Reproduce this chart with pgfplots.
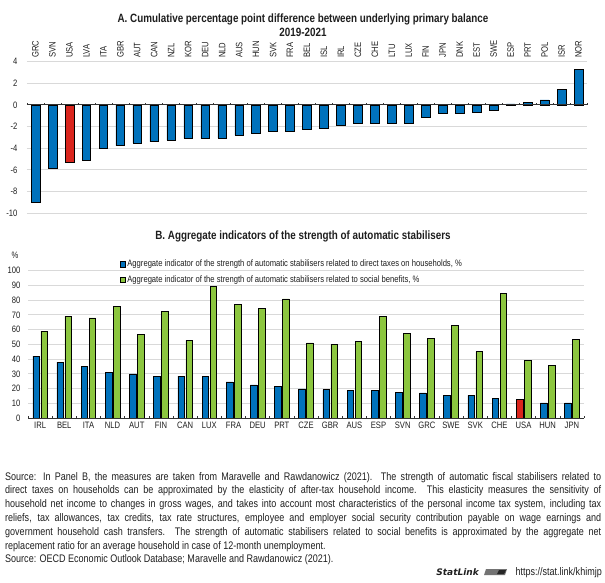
\documentclass[border=0pt]{standalone}
\usepackage{pgfplots}
\pgfplotsset{compat=1.18}
\usepackage{fontspec}
\setmainfont{Liberation Sans}[FakeStretch=0.82]
\newfontfamily\statfont{DejaVu Sans}

\definecolor{barblue}{RGB}{0,114,188}
\definecolor{bargreen}{RGB}{140,198,63}
\definecolor{barred}{RGB}{218,37,29}
\definecolor{gridgrey}{RGB}{217,217,217}
\definecolor{txt}{RGB}{30,30,30}

\pgfplotsset{
  oecd/.style={
    scale only axis,
    axis line style={draw=none},
    major tick length=0pt,
    ymajorgrids,
    grid style={gridgrey, line width=0.9bp},
    tick label style={font=\fontsize{9.3bp}{10bp}\selectfont, text=txt},
    /pgf/number format/assume math mode=true,
    ybar,
    clip=false,
  },
}

\begin{document}
\begin{tikzpicture}
\path[use as bounding box] (0,0) rectangle (605bp,-583bp);

% Panel A
\begin{axis}[oecd,
  at={(27bp,-213.3bp)}, anchor=south west,
  width=560bp, height=151.8bp,
  xmin=-0.5, xmax=32.5, ymin=-10, ymax=4,
  ytick={-10,-8,...,4},
  xtick={0,...,32},
  xticklabels={GRC,SVN,USA,LVA,ITA,GBR,AUT,CAN,NZL,KOR,DEU,NLD,AUS,HUN,SVK,FRA,BEL,ISL,IRL,CZE,CHE,LTU,LUX,FIN,JPN,DNK,EST,SWE,ESP,PRT,POL,ISR,NOR},
  xticklabel pos=upper,
  xticklabel style={rotate=90, anchor=west, inner ysep=0pt, inner xsep=3.5bp},
  yticklabel style={inner sep=0pt, xshift=-9.5bp},
  bar width=8.7bp,
]
\addplot[fill=barblue, draw=black, line width=0.5bp, bar shift=0pt] coordinates {
  (0,-8.95) (1,-5.85) (3,-5.1) (4,-4.0) (5,-3.75) (6,-3.5) (7,-3.4) (8,-3.25)
  (9,-3.1) (10,-3.1) (11,-3.05) (12,-2.8) (13,-2.6) (14,-2.45) (15,-2.4)
  (16,-2.25) (17,-2.2) (18,-1.85) (19,-1.7) (20,-1.7) (21,-1.65) (22,-1.65)
  (23,-1.15) (24,-0.75) (25,-0.75) (26,-0.65) (27,-0.45) (28,0.1) (29,0.25)
  (30,0.45) (31,1.4) (32,3.25)
};
\addplot[fill=barred, draw=black, line width=0.5bp, bar shift=0pt] coordinates {(2,-5.25)};
\draw[black!80, line width=0.8bp] (axis cs:-0.5,0) -- (axis cs:32.5,0);
\pgfplotsinvokeforeach{-0.5,0.5,...,32.5}{\draw[black!80, line width=0.6bp] (axis cs:#1,0) -- ([yshift=2bp]axis cs:#1,0);}
\end{axis}

% Panel B
\begin{axis}[oecd,
  at={(28bp,-418bp)}, anchor=south west,
  width=556bp, height=147.3bp,
  xmin=-0.5, xmax=22.5, ymin=0, ymax=100,
  ytick={0,10,...,100},
  xtick={0,...,22},
  xticklabels={IRL,BEL,ITA,NLD,AUT,FIN,CAN,LUX,FRA,DEU,PRT,CZE,GBR,AUS,ESP,SVN,GRC,SWE,SVK,CHE,USA,HUN,JPN},
  xticklabel style={inner sep=0pt, yshift=-4bp},
  yticklabel style={inner sep=0pt, xshift=-7.5bp},
  bar width=6.6bp,
  legend style={at={(rel axis cs:0.1646,1.086)}, anchor=north west, draw=none, fill=none,
    font=\fontsize{9.3bp}{10bp}\selectfont, text=txt, row sep=3.5bp, inner sep=0pt},
  legend cell align=left,
  legend image code/.code={\draw[#1, line width=0.5bp, draw=black] (0bp,-2.6bp) rectangle (5.2bp,2.6bp);},
]
\addplot[fill=barblue, draw=black, line width=0.5bp, bar shift=-4bp] coordinates {
  (0,42) (1,38) (2,35) (3,31) (4,30) (5,28.5) (6,28.5) (7,28.3) (8,24.5) (9,22.5)
  (10,21.3) (11,19.8) (12,19.2) (13,18.8) (14,18.6) (15,17.6) (16,17) (17,15.6)
  (18,15.4) (19,13.1) (21,10.2) (22,10.2)
};
\addlegendentry{Aggregate indicator of the strength of automatic stabilisers related to direct taxes on households, \%}
\addplot[fill=bargreen, draw=black, line width=0.5bp, bar shift=4bp] coordinates {
  (0,59) (1,69) (2,68) (3,76) (4,57) (5,72.5) (6,52.7) (7,89.6) (8,77) (9,74.5)
  (10,80.8) (11,51) (12,49.8) (13,52) (14,68.8) (15,57.7) (16,54.3) (17,62.9)
  (18,45) (19,84.8) (20,39.1) (21,35.7) (22,53.6)
};
\addlegendentry{Aggregate indicator of the strength of automatic stabilisers related to social benefits, \%}
\addplot[fill=barred, draw=black, line width=0.5bp, bar shift=-4bp, forget plot] coordinates {(20,12.7)};
\draw[black!80, line width=0.8bp] (axis cs:-0.5,0) -- (axis cs:22.5,0);
\pgfplotsinvokeforeach{-0.5,0.5,...,22.5}{\draw[black!80, line width=0.6bp] (axis cs:#1,0) -- ([yshift=2bp]axis cs:#1,0);}
\end{axis}

% titles
\node[font=\fontsize{12bp}{14bp}\selectfont\bfseries, align=center, text=txt] at (303bp,-25bp)
  {A. Cumulative percentage point difference between underlying primary balance\\2019-2021};
\node[font=\fontsize{12bp}{14bp}\selectfont\bfseries, text=txt] at (303bp,-236bp)
  {B. Aggregate indicators of the strength of automatic stabilisers};
\node[font=\fontsize{9.3bp}{10bp}\selectfont, text=txt] at (15bp,-255bp) {\%};

% notes
\node[anchor=north west, inner sep=0pt, text width=596bp, align=justify,
  font=\fontsize{11bp}{13.8bp}\selectfont, text=txt] at (5bp,-472bp) {%
Source: In Panel B, the measures are taken from Maravelle and Rawdanowicz (2021). The strength of automatic fiscal stabilisers related to\linebreak
direct taxes on households can be approximated by the elasticity of after-tax household income. This elasticity measures the sensitivity of\linebreak
household net income to changes in gross wages, and takes into account most characteristics of the personal income tax system, including tax\linebreak
reliefs, tax allowances, tax credits, tax rate structures, employee and employer social security contribution payable on wage earnings and\linebreak
government household cash transfers. The strength of automatic stabilisers related to social benefits is approximated by the aggregate net\linebreak
replacement ratio for an average household in case of 12-month unemployment.\par
Source: OECD Economic Outlook Database; Maravelle and Rawdanowicz (2021).};

\node[anchor=base east, inner sep=0pt, font=\fontsize{11bp}{13bp}\selectfont, text=txt] at (602bp,-575bp) {https://stat.link/khimjp};
\fill[black!55] (484bp,-575bp) -- (486bp,-569bp) -- (507bp,-569bp) -- (505bp,-575bp) -- cycle;
\fill[black!85] (497bp,-574bp) -- (499bp,-570bp) -- (506bp,-570bp) -- (504bp,-574bp) -- cycle;
\node[anchor=base east, inner sep=0pt, font=\statfont\bfseries\itshape\fontsize{9bp}{10bp}\selectfont, text=txt] at (479bp,-575bp) {StatLink};
\end{tikzpicture}
\end{document}
